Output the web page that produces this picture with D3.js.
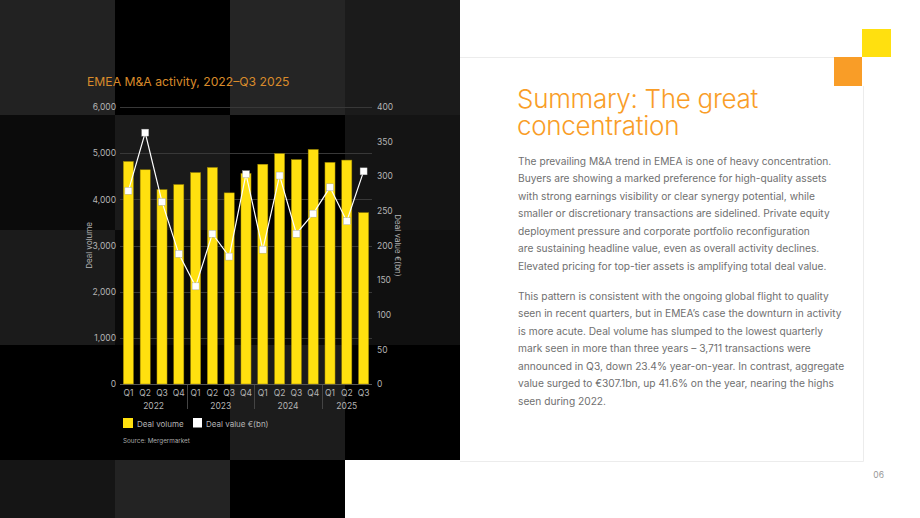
<!DOCTYPE html>
<html>
<head>
<meta charset="utf-8">
<script src="https://cdn.jsdelivr.net/npm/d3@7"></script>
<style>
  html, body { margin: 0; padding: 0; background: #fff; }
  svg { display: block; font-family: Inter, "Noto Sans", sans-serif; }
</style>
</head>
<body>
<svg id="page" width="920" height="518"></svg>
<script>
// chart data
const quarters = ["Q1","Q2","Q3","Q4","Q1","Q2","Q3","Q4","Q1","Q2","Q3","Q4","Q1","Q2","Q3"];
const years = ["2022", "2023", "2024", "2025"];
const dealVolume = [4820, 4640, 4210, 4320, 4580, 4690, 4140, 4560, 4760, 4990, 4860, 5080, 4800, 4850, 3711];
const dealValue = [279, 363, 263, 188, 141, 217, 184, 303, 194, 301, 217, 246, 284, 235, 307.1];
const volumeTicks = [0, 1000, 2000, 3000, 4000, 5000, 6000];
const valueTicks = [0, 50, 100, 150, 200, 250, 300, 350, 400];

const para1 = [
  "The prevailing M&A trend in EMEA is one of heavy concentration.",
  "Buyers are showing a marked preference for high-quality assets",
  "with strong earnings visibility or clear synergy potential, while",
  "smaller or discretionary transactions are sidelined. Private equity",
  "deployment pressure and corporate portfolio reconfiguration",
  "are sustaining headline value, even as overall activity declines.",
  "Elevated pricing for top-tier assets is amplifying total deal value."
];
const para2 = [
  "This pattern is consistent with the ongoing global flight to quality",
  "seen in recent quarters, but in EMEA\u2019s case the downturn in activity",
  "is more acute. Deal volume has slumped to the lowest quarterly",
  "mark seen in more than three years \u2013 3,711 transactions were",
  "announced in Q3, down 23.4% year-on-year. In contrast, aggregate",
  "value surged to \u20ac307.1bn, up 41.6% on the year, nearing the highs",
  "seen during 2022."
];

// background tile shades (115px squares)
const tileShades = [
  ["#222222", "#000000", "#252525", "#1b1b1b"],
  ["#0b0b0b", "#1a1a1a", "#000000", "#141414"],
  ["#1b1b1b", "#0a0a0a", "#0a0a0a", "#101010"],
  ["#000000", "#000000", "#1c1c1c", "#000000"],
  ["#151515", "#232323", "#000000", null]
];

const svg = d3.select("#page");

// dark tiled panel on the left
const tiles = svg.append("g");
tileShades.forEach((row, r) => {
  row.forEach((c, col) => {
    if (!c) return;
    tiles.append("rect")
      .attr("x", col * 115).attr("y", r * 115)
      .attr("width", 115).attr("height", 115)
      .attr("fill", c);
  });
});

// white text card on the right
svg.append("path")
  .attr("d", "M460,57.5H834 M863.5,86V461.5H460")
  .attr("fill", "none").attr("stroke", "#ececec").attr("stroke-width", 1);
svg.append("rect").attr("x", 862).attr("y", 29).attr("width", 29).attr("height", 28).attr("fill", "#ffe00f");
svg.append("rect").attr("x", 834).attr("y", 57).attr("width", 28).attr("height", 29).attr("fill", "#f99d27");

// scales
const plotLeft = 120, plotRight = 372, plotTop = 107, plotBottom = 384;
const x = d3.scaleBand().domain(d3.range(quarters.length)).range([plotLeft, plotRight]).paddingInner(0.4).paddingOuter(0.2);
const yVol = d3.scaleLinear().domain([0, 6000]).range([plotBottom, plotTop]);
const yVal = d3.scaleLinear().domain([0, 400]).range([plotBottom, plotTop]);

const chart = svg.append("g");

// title
chart.append("text")
  .attr("x", 87).attr("y", 86)
  .attr("fill", "#d98b2b").attr("font-size", 12.2)
  .text("EMEA M&A activity, 2022\u2013Q3 2025");

// gridlines
chart.append("g").selectAll("line")
  .data(volumeTicks)
  .join("line")
  .attr("x1", plotLeft).attr("x2", plotRight)
  .attr("y1", d => Math.round(yVol(d)) + 0.5).attr("y2", d => Math.round(yVol(d)) + 0.5)
  .attr("stroke", d => d === 0 ? "#555" : "#383838");

// left axis
const axisL = chart.append("g")
  .attr("transform", `translate(${plotLeft},0)`)
  .call(d3.axisLeft(yVol).tickValues(volumeTicks).tickFormat(d3.format(",")).tickSize(0).tickPadding(4));
axisL.select(".domain").remove();
axisL.selectAll("text").attr("fill", "#b4b4b4").attr("font-size", 8.5).attr("font-family", "Inter, sans-serif");

// right axis
const axisR = chart.append("g")
  .attr("transform", `translate(${plotRight},0)`)
  .call(d3.axisRight(yVal).tickValues(valueTicks).tickSize(0).tickPadding(5));
axisR.select(".domain").remove();
axisR.selectAll("text").attr("fill", "#b4b4b4").attr("font-size", 8.5).attr("font-family", "Inter, sans-serif");

// axis titles
chart.append("text")
  .attr("transform", `translate(92,${(plotTop + plotBottom) / 2})  rotate(-90)`)
  .attr("text-anchor", "middle").attr("fill", "#b4b4b4").attr("font-size", 8)
  .text("Deal volume");
chart.append("text")
  .attr("transform", `translate(395,${(plotTop + plotBottom) / 2}) rotate(90)`)
  .attr("text-anchor", "middle").attr("fill", "#b4b4b4").attr("font-size", 8)
  .text("Deal value \u20ac(bn)");

// bars
chart.append("g").selectAll("rect")
  .data(dealVolume)
  .join("rect")
  .attr("x", (d, i) => x(i))
  .attr("width", x.bandwidth())
  .attr("y", d => yVol(d))
  .attr("height", d => yVol(0) - yVol(d))
  .attr("fill", "#ffe00f")
  .attr("stroke", "#9a8300").attr("stroke-width", 0.5);

// line
const line = d3.line()
  .x((d, i) => x(i) + x.bandwidth() / 2)
  .y(d => yVal(d));
chart.append("path")
  .datum(dealValue)
  .attr("d", line)
  .attr("fill", "none").attr("stroke", "#fff").attr("stroke-width", 1.2);
chart.append("g").selectAll("rect")
  .data(dealValue)
  .join("rect")
  .attr("x", (d, i) => x(i) + x.bandwidth() / 2 - 3.5)
  .attr("y", d => yVal(d) - 3.5)
  .attr("width", 7).attr("height", 7)
  .attr("fill", "#fff").attr("stroke", "#999").attr("stroke-width", 0.4);

// x axis: quarters and years
const xAxis = chart.append("g")
  .attr("transform", `translate(0,${plotBottom})`)
  .call(d3.axisBottom(x).tickFormat(i => quarters[i]).tickSize(0).tickPadding(6));
xAxis.select(".domain").remove();
xAxis.selectAll("text").attr("fill", "#b4b4b4").attr("font-size", 8.5).attr("font-family", "Inter, sans-serif");

years.forEach((yr, k) => {
  const first = k * 4, last = Math.min(first + 3, quarters.length - 1);
  const cx = (x(first) + x(last) + x.bandwidth()) / 2;
  chart.append("text")
    .attr("x", cx).attr("y", 409)
    .attr("text-anchor", "middle").attr("fill", "#b4b4b4").attr("font-size", 8.5)
    .text(yr);
  if (k > 0) {
    const sx = Math.round(x(first) - x.step() * x.paddingInner() / 2) + 0.5;
    chart.append("line")
      .attr("x1", sx).attr("x2", sx).attr("y1", plotBottom + 1).attr("y2", plotBottom + 25)
      .attr("stroke", "#444");
  }
});

// legend
const legend = chart.append("g").attr("transform", "translate(123,418)");
legend.append("rect").attr("width", 10).attr("height", 10).attr("fill", "#ffe00f");
legend.append("text").attr("x", 14).attr("y", 8.5).attr("fill", "#b4b4b4").attr("font-size", 8).text("Deal volume");
legend.append("rect").attr("x", 70).attr("width", 9).attr("height", 9.5).attr("fill", "#fff");
legend.append("text").attr("x", 83).attr("y", 8.5).attr("fill", "#b4b4b4").attr("font-size", 8).text("Deal value \u20ac(bn)");

chart.append("text")
  .attr("x", 123).attr("y", 443)
  .attr("fill", "#aaa").attr("font-size", 6.3)
  .text("Source: Mergermarket");

// summary text
const heading = svg.append("text")
  .attr("x", 517).attr("fill", "#f99d27").attr("font-size", 26)
  .attr("font-weight", 300).attr("letter-spacing", -0.3);
["Summary: The great", "concentration"].forEach((t, i) => {
  heading.append("tspan").attr("x", 517).attr("y", 108 + i * 27).text(t);
});

function paragraph(lines, y0) {
  const t = svg.append("text").attr("fill", "#707070").attr("font-size", 10.2);
  lines.forEach((l, i) => {
    t.append("tspan").attr("x", 518).attr("y", y0 + i * 17.5).text(l);
  });
}
paragraph(para1, 164.5);
paragraph(para2, 299.5);

svg.append("text")
  .attr("x", 884).attr("y", 478).attr("text-anchor", "end")
  .attr("fill", "#999").attr("font-size", 8.5)
  .text("06");
</script>
</body>
</html>
